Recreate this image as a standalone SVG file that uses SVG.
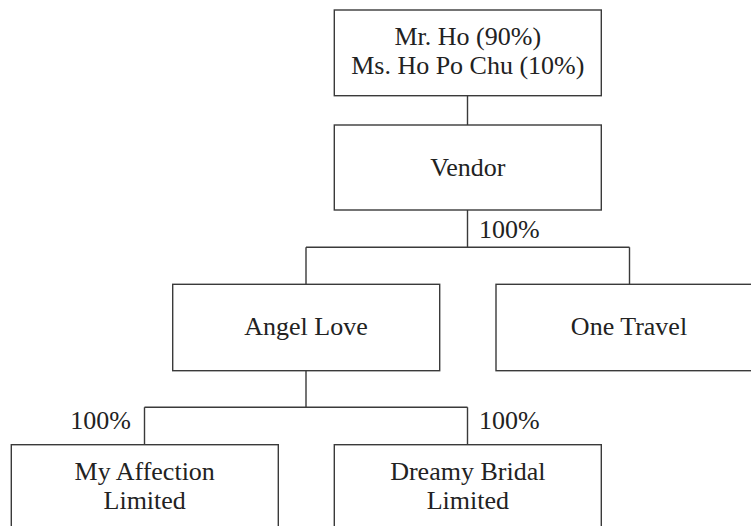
<svg xmlns="http://www.w3.org/2000/svg" width="751" height="526" viewBox="0 0 751 526">
<style>
.box{fill:#fff;stroke:#3a3a3a;stroke-width:1.4}
.ln{fill:none;stroke:#3a3a3a;stroke-width:1.4}
text{font-family:"Liberation Serif","Times New Roman",serif;font-size:26px;fill:#222}
.c{text-anchor:middle}
</style>
<rect width="751" height="526" fill="#fff"/>
<g id="connectors">
<path class="ln" d="M467.5 95.7V125"/>
<path class="ln" d="M467.5 210V247.3M306 247.3H629.5M306 247.3V284.3M629.5 247.3V284.3"/>
<path class="ln" d="M306 370.7V407.3M144.5 407.3H467.5M144.5 407.3V444.7M467.5 407.3V444.7"/>
<text x="479" y="238">100%</text>
<text x="131" y="429" text-anchor="end">100%</text>
<text x="479" y="429">100%</text>
</g>
<g id="owners">
<rect class="box" x="334.3" y="10" width="267" height="85.7"/>
<text class="c" x="467.8" y="45">Mr. Ho (90%)</text>
<text class="c" x="467.8" y="74">Ms. Ho Po Chu (10%)</text>
</g>
<g id="vendor">
<rect class="box" x="334.3" y="125" width="267" height="85"/>
<text class="c" x="467.8" y="176">Vendor</text>
</g>
<g id="angel-love">
<rect class="box" x="172.7" y="284.3" width="267" height="86.4"/>
<text class="c" x="306" y="335">Angel Love</text>
</g>
<g id="one-travel">
<rect class="box" x="496" y="284.3" width="267" height="86.4"/>
<text class="c" x="629" y="335">One Travel</text>
</g>
<g id="my-affection">
<rect class="box" x="11.3" y="444.7" width="267" height="90"/>
<text class="c" x="144.7" y="480">My Affection</text>
<text class="c" x="144.7" y="509">Limited</text>
</g>
<g id="dreamy-bridal">
<rect class="box" x="334.3" y="444.7" width="267" height="90"/>
<text class="c" x="467.8" y="480">Dreamy Bridal</text>
<text class="c" x="467.8" y="509">Limited</text>
</g>
</svg>
